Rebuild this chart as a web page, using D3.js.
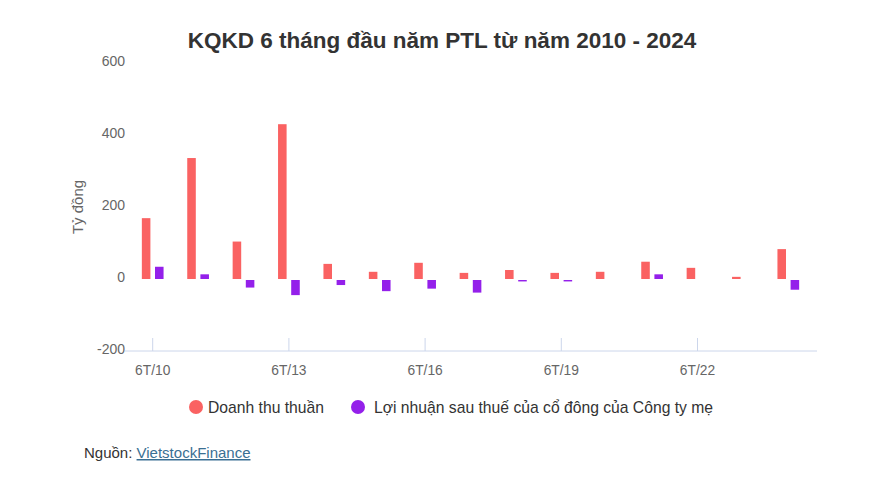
<!DOCTYPE html>
<html>
<head>
<meta charset="utf-8">
<script src="https://cdn.jsdelivr.net/npm/d3@7"></script>
<style>
  body { margin: 0; background: #fff; font-family: "Liberation Sans", Arial, sans-serif; }
</style>
</head>
<body>
<div id="chart"></div>
<script>
const years = ["2010","2011","2012","2013","2014","2015","2016","2017","2018","2019","2020","2021","2022","2023","2024"]
const doanhThu = [169, 336, 104, 430, 42, 20, 45, 17, 25, 17, 20, 48, 31, 6, 83]
const loiNhuan = [34, 13, -21, -42, -14, -31, -24, -35, -4, -4, 0, 13, 0, 0, -27]
const yTicks = [-200, 0, 200, 400, 600]
const tickYears = ["2010","2013","2016","2019","2022"]
const seriesNames = ["Doanh thu thuần", "Lợi nhuận sau thuế của cổ đông của Công ty mẹ"]
const colors = ["#fa6262", "#9420ea"]

const width = 871
const height = 478

const svg = d3.select("#chart").append("svg").attr("width", width).attr("height", height)

const x = d3.scaleBand().domain(years).range([130, 811])
const y = d3.scaleLinear().domain([-200, 600]).range([351, 63])

svg.append("text")
    .attr("x", 442).attr("y", 48)
    .attr("text-anchor", "middle")
    .attr("font-size", 22.5).attr("font-weight", "bold").attr("fill", "#333")
    .text("KQKD 6 tháng đầu năm PTL từ năm 2010 - 2024")

// y axis labels
svg.append("g").selectAll("text").data(yTicks).join("text")
    .attr("x", 125).attr("y", d => y(d) + 3)
    .attr("text-anchor", "end")
    .attr("font-size", 14).attr("fill", "#666")
    .text(d => d)

svg.append("text")
    .attr("transform", `translate(83, ${y(200)}) rotate(-90)`)
    .attr("text-anchor", "middle")
    .attr("font-size", 15).attr("fill", "#666")
    .text("Tỷ đồng")

// x axis
const axisGroup = svg.append("g")
axisGroup.append("line")
    .attr("x1", 125).attr("x2", 817).attr("y1", 351).attr("y2", 351)
    .attr("stroke", "#ccd6eb")
axisGroup.selectAll("line.tick").data(tickYears).join("line")
    .attr("class", "tick")
    .attr("x1", d => x(d) + x.bandwidth() / 2).attr("x2", d => x(d) + x.bandwidth() / 2)
    .attr("y1", 338).attr("y2", 351)
    .attr("stroke", "#ccd6eb")
axisGroup.selectAll("text").data(tickYears).join("text")
    .attr("x", d => x(d) + x.bandwidth() / 2).attr("y", 375)
    .attr("text-anchor", "middle")
    .attr("font-size", 13.8).attr("fill", "#666")
    .text(d => "6T/" + d.slice(2))

// bars
const inner = d3.scaleBand().domain([0, 1]).range([0, x.bandwidth()]).paddingInner(0.35).paddingOuter(0.9)
const barGroup = svg.append("g")
;[doanhThu, loiNhuan].forEach((vals, i) => {
    barGroup.append("g").selectAll("rect").data(vals).join("rect")
        .attr("x", (d, j) => x(years[j]) + inner(i))
        .attr("width", inner.bandwidth())
        .attr("y", d => d >= 0 ? y(d) : y(0) + 1)
        .attr("height", d => Math.abs(y(d) - y(0)))
        .attr("fill", colors[i])
})

// legend
const legend = svg.append("g").attr("transform", "translate(0, 407)")
const legendX = [196, 358]
seriesNames.forEach((name, i) => {
    legend.append("circle").attr("cx", legendX[i]).attr("cy", 0).attr("r", 7).attr("fill", colors[i])
    legend.append("text")
        .attr("x", legendX[i] + (i ? 16 : 12)).attr("y", 6)
        .attr("font-size", 15.7).attr("fill", "#333")
        .text(name)
})

// source
const src = svg.append("text").attr("x", 84).attr("y", 458).attr("font-size", 15).attr("fill", "#333")
src.append("tspan").text("Nguồn: ")
src.append("tspan").attr("fill", "#3a6f93").attr("text-decoration", "underline").text("VietstockFinance")
</script>
</body>
</html>
